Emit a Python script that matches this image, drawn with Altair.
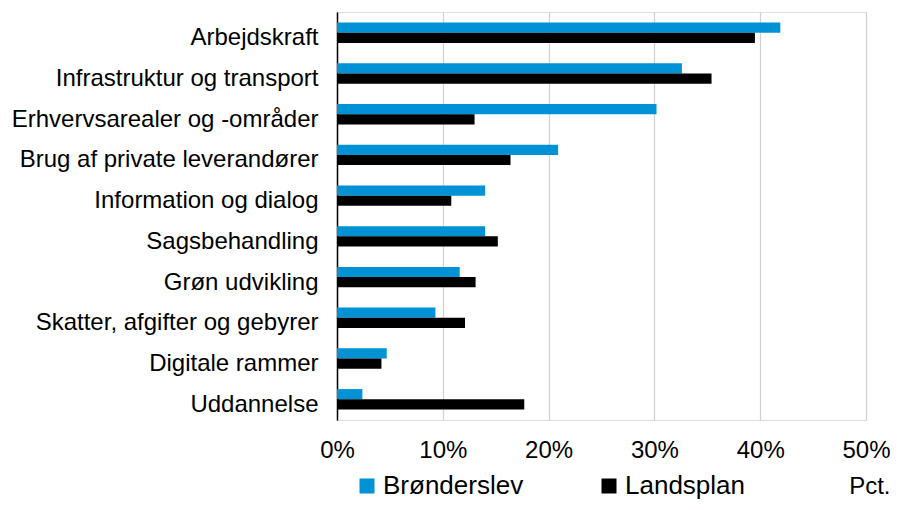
import altair as alt
import pandas as pd

categories = [
    "Arbejdskraft",
    "Infrastruktur og transport",
    "Erhvervsarealer og -områder",
    "Brug af private leverandører",
    "Information og dialog",
    "Sagsbehandling",
    "Grøn udvikling",
    "Skatter, afgifter og gebyrer",
    "Digitale rammer",
    "Uddannelse",
]
series = ["Brønderslev", "Landsplan"]
bronderslev = [41.9, 32.6, 30.2, 20.9, 14.0, 14.0, 11.6, 9.3, 4.7, 2.4]
landsplan = [39.5, 35.4, 13.0, 16.4, 10.8, 15.2, 13.1, 12.1, 4.2, 17.7]
colors = ["#0092D5", "#000000"]
x_ticks = [0, 10, 20, 30, 40, 50]

rows = []
for c, b, l in zip(categories, bronderslev, landsplan):
    rows.append({"Kategori": c, "Serie": series[0], "Værdi": b})
    rows.append({"Kategori": c, "Serie": series[1], "Værdi": l})
df = pd.DataFrame(rows)

FONT = "Liberation Sans"

chart = (
    alt.Chart(df)
    .mark_bar()
    .encode(
        x=alt.X(
            "Værdi:Q",
            scale=alt.Scale(domain=[0, 50], nice=False),
            axis=alt.Axis(
                values=x_ticks,
                labelExpr="datum.value + '%'",
                labelFlush=False,
                domain=False,
                ticks=False,
                grid=True,
                gridColor="#d0d0d0",
                gridWidth=1.2,
                labelFontSize=24,
                labelColor="#000000",
                labelPadding=18,
                labelFont=FONT,
                title="Pct.",
                titleFont=FONT,
                titleFontSize=24,
                titleFontWeight="normal",
                titleColor="#000000",
                titleX=553,
                titleY=73,
                titleAlign="right",
                titleBaseline="alphabetic",
            ),
        ),
        y=alt.Y(
            "Kategori:N",
            sort=categories,
            scale=alt.Scale(paddingInner=0.499, paddingOuter=0.258),
            axis=alt.Axis(
                title=None,
                domain=True,
                domainColor="#000000",
                domainWidth=1.5,
                ticks=False,
                grid=False,
                labelFontSize=24,
                labelColor="#000000",
                labelFont=FONT,
                labelPadding=19,
                labelOffset=5.5,
                labelLimit=500,
            ),
        ),
        yOffset=alt.YOffset("Serie:N", sort=series),
        color=alt.Color(
            "Serie:N",
            sort=series,
            scale=alt.Scale(domain=series, range=colors),
            legend=alt.Legend(
                title=None,
                orient="none",
                legendX=17,
                legendY=461,
                direction="horizontal",
                symbolType="square",
                symbolSize=225,
                symbolStrokeWidth=0,
                labelFontSize=26,
                labelFont=FONT,
                labelColor="#000000",
                labelOffset=3,
                labelLimit=400,
                columnPadding=72,
            ),
        ),
    )
    .properties(
        width=529,
        height=408,
        autosize=alt.AutoSizeParams(type="none"),
        padding={"left": 329, "top": 4, "right": 25, "bottom": 82},
    )
    .configure_view(stroke=None)
    .configure(font=FONT)
)

chart.save("out.html", embed_options={"renderer": "svg", "actions": False})
